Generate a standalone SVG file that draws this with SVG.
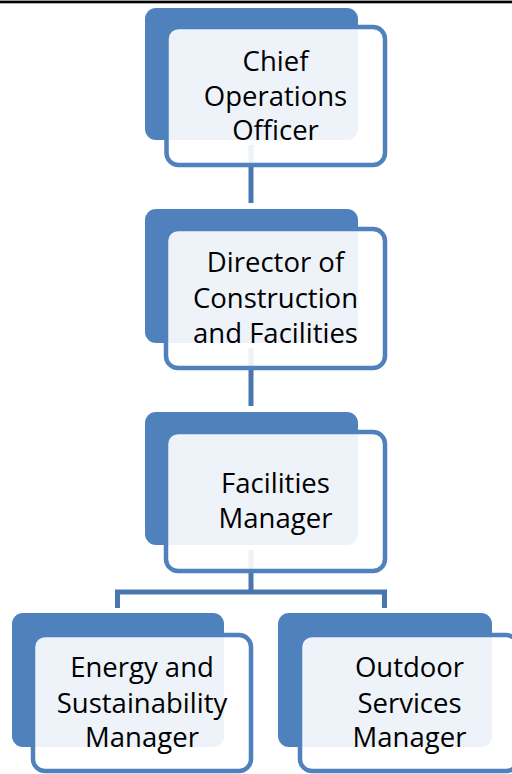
<svg xmlns="http://www.w3.org/2000/svg" width="512" height="774" viewBox="0 0 512 774">
<style>
.back{fill:#4F81BD}
.front{fill:#FFFFFF;fill-opacity:0.9;stroke:#4F81BD;stroke-width:4.5}
.conn{fill:none;stroke:#4877B0;stroke-width:5}
text{font-family:"Open Sans","Liberation Sans",sans-serif;font-size:27.5px;fill:#000;text-anchor:middle}
</style>
<rect x="0" y="0.6" width="512" height="2.7" fill="#000"/>
<g id="connectors">
<line class="conn" x1="251" y1="145" x2="251" y2="203"/>
<line class="conn" x1="251" y1="348" x2="251" y2="406"/>
<line class="conn" x1="251" y1="550" x2="251" y2="592"/>
<polyline class="conn" points="117.5,608 117.5,592 384.5,592 384.5,608"/>
</g>
<g id="node-coo">
<rect class="back" x="145" y="8" width="213" height="132" rx="11"/>
<rect class="front" x="166.5" y="27" width="218.5" height="138" rx="12"/>
<text x="275.5" y="71">Chief</text>
<text x="275.5" y="105.5">Operations</text>
<text x="275.5" y="140">Officer</text>
</g>
<g id="node-director">
<rect class="back" x="145" y="209" width="213" height="134" rx="11"/>
<rect class="front" x="166" y="229" width="219" height="139" rx="12"/>
<text x="275.5" y="272">Director of</text>
<text x="275.5" y="307.5">Construction</text>
<text x="275.5" y="343">and Facilities</text>
</g>
<g id="node-facilities">
<rect class="back" x="145" y="412" width="213" height="133" rx="11"/>
<rect class="front" x="166" y="432" width="219" height="139" rx="12"/>
<text x="275.5" y="493">Facilities</text>
<text x="275.5" y="528">Manager</text>
</g>
<g id="node-energy">
<rect class="back" x="12" y="613" width="212" height="134" rx="11"/>
<rect class="front" x="33" y="635" width="218" height="136" rx="12"/>
<text x="142" y="677">Energy and</text>
<text x="142" y="712.5">Sustainability</text>
<text x="142" y="747">Manager</text>
</g>
<g id="node-outdoor">
<rect class="back" x="278" y="613" width="214" height="134" rx="11"/>
<rect class="front" x="300" y="635" width="218" height="136" rx="12"/>
<text x="409.5" y="677">Outdoor</text>
<text x="409.5" y="712.5">Services</text>
<text x="409.5" y="747">Manager</text>
</g>
</svg>
